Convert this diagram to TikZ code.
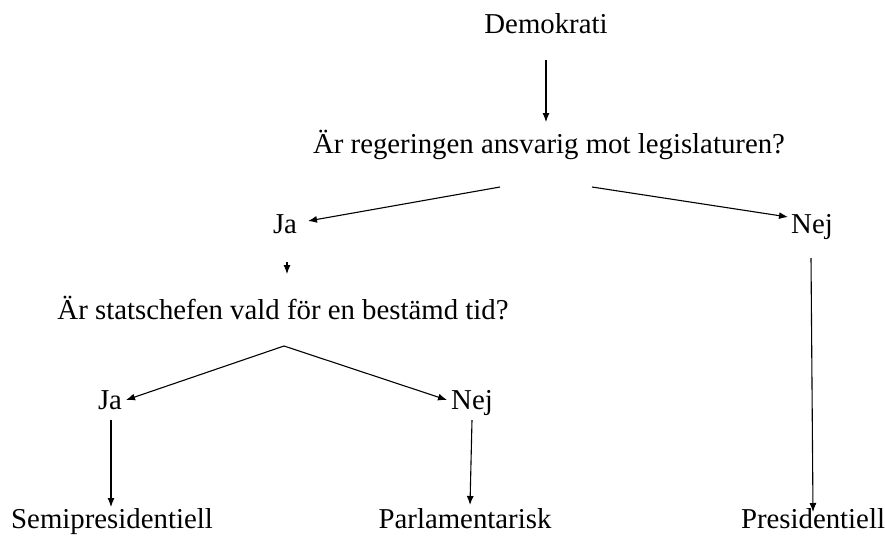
\documentclass[tikz,border=0pt]{standalone}
\usepackage{fontspec}
\setmainfont{Liberation Serif}
\usetikzlibrary{arrows.meta}
\begin{document}
\begin{tikzpicture}[x=1pt,y=-1pt,
  lbl/.style={inner sep=0pt,anchor=base,font=\fontsize{28.8}{32}\selectfont},
  conn/.style={-{Latex[length=9pt,width=7pt]},line width=1.1pt}]
\useasboundingbox (0,0) rectangle (885,541);
\node[lbl] (demo) at (546,33) {Demokrati};
\node[lbl] (q1) at (549,153) {Är regeringen ansvarig mot legislaturen?};
\node[lbl] (ja1) at (285,233) {Ja};
\node[lbl] (nej1) at (812,233) {Nej};
\node[lbl] (q2) at (283,319) {Är statschefen vald för en bestämd tid?};
\node[lbl] (ja2) at (110,409) {Ja};
\node[lbl] (nej2) at (472,409) {Nej};
\node[lbl] (semi) at (112,528) {Semipresidentiell};
\node[lbl] (parl) at (465,528) {Parlamentarisk};
\node[lbl] (pres) at (813,528) {Presidentiell};
\coordinate (d0) at (546,60); \coordinate (d1) at (546,122);
\coordinate (a0) at (500,187); \coordinate (a1) at (308,221);
\coordinate (b0) at (592,187); \coordinate (b1) at (788,217);
\coordinate (c0) at (287,262); \coordinate (c1) at (287,274);
\coordinate (q2b) at (284,346);
\coordinate (e1) at (126,400); \coordinate (f1) at (447,400);
\coordinate (g0) at (111,420); \coordinate (g1) at (111,507);
\coordinate (h0) at (472,420); \coordinate (h1) at (470,505);
\coordinate (k0) at (811,258); \coordinate (k1) at (813,512);
\draw[conn] (d0) -- (d1);
\draw[conn] (a0) -- (a1);
\draw[conn] (b0) -- (b1);
\draw[conn] (c0) -- (c1);
\draw[conn] (q2b) -- (e1);
\draw[conn] (q2b) -- (f1);
\draw[conn] (g0) -- (g1);
\draw[conn] (h0) -- (h1);
\draw[conn] (k0) -- (k1);
\end{tikzpicture}
\end{document}
